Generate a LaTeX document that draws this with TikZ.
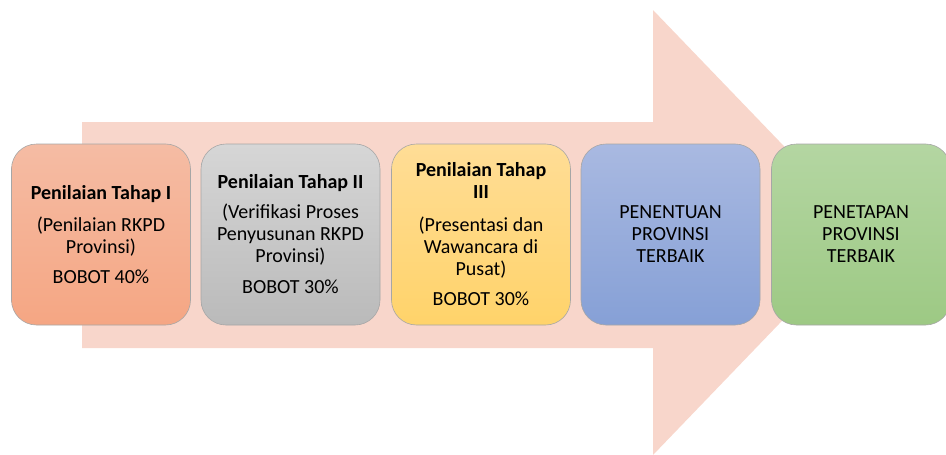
\documentclass[tikz,border=0pt]{standalone}
\usepackage{fontspec}
\setmainfont{Carlito}
\begin{document}
\begin{tikzpicture}[x=1pt,y=-1pt,
  stagebox/.style={rounded corners=25pt, minimum width=179pt, minimum height=181pt,
    align=center, inner sep=0pt, draw=#1, line width=0.6pt,
    font=\fontsize{20}{22}\selectfont, text=black},
]
\useasboundingbox (0,0) rectangle (946,455);
\clip (0,0) rectangle (946,455);
\definecolor{arrowfill}{HTML}{F8D6CB}
% big arrow
\fill[arrowfill] (82,122) -- (653,122) -- (653,10) -- (867,232.5) -- (653,455) -- (653,348) -- (82,348) -- cycle;
% boxes
\node[stagebox={gray!70}, top color={rgb,255:red,245;green,188;blue,164}, bottom color={rgb,255:red,245;green,166;blue,131}]
  (b1) at (101,234.5) {\textbf{Penilaian Tahap I}\\[10pt](Penilaian RKPD\\Provinsi)\\[8pt]BOBOT 40\%};
\node[stagebox={gray!70}, top color={rgb,255:red,214;green,214;blue,214}, bottom color={rgb,255:red,186;green,186;blue,186}]
  (b2) at (290.5,234.5) {\textbf{Penilaian Tahap II}\\[8pt](Verifikasi Proses\\Penyusunan RKPD\\Provinsi)\\[9pt]BOBOT 30\%};
\node[stagebox={gray!70}, top color={rgb,255:red,255;green,221;blue,150}, bottom color={rgb,255:red,255;green,211;blue,106}]
  (b3) at (481,234.5) {\textbf{Penilaian Tahap}\\\textbf{III}\\[11pt](Presentasi dan\\Wawancara di\\Pusat)\\[8pt]BOBOT 30\%};
\node[stagebox={gray!70}, top color={rgb,255:red,169;green,185;blue,225}, bottom color={rgb,255:red,134;green,160;blue,214}]
  (b4) at (670.5,234.5) {PENENTUAN\\PROVINSI\\TERBAIK};
\node[stagebox={gray!70}, top color={rgb,255:red,180;green,214;blue,162}, bottom color={rgb,255:red,157;green,201;blue,132}]
  (b5) at (861,234.5) {PENETAPAN\\PROVINSI\\TERBAIK};
\end{tikzpicture}
\end{document}
